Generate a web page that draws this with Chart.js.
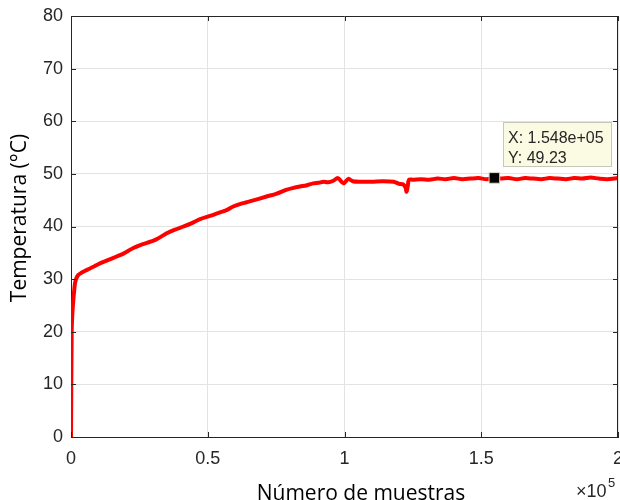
<!DOCTYPE html>
<html>
<head>
<meta charset="utf-8">
<script src="https://cdn.jsdelivr.net/npm/chart.js@4.4.1/dist/chart.umd.min.js"></script>
<style>
  html, body { margin: 0; padding: 0; background: #ffffff; }
  #wrap { width: 620px; height: 500px; position: relative; }
</style>
</head>
<body>
<div id="wrap"><canvas id="chart"></canvas></div>
<script>
//Samples (x) and measured temperature (y)
const muestras = [
  0, 240, 500, 850, 1200, 1460, 2000, 2680, 3500, 4500, 6000, 8000, 10600, 13000,
  16700, 19000, 22800, 26000, 28900, 31000, 35000, 38000, 41100, 44000, 47200,
  50800, 54000, 56900, 59300, 62000, 64200, 67000, 71500, 75000, 78900, 81000,
  83700, 86000, 88600, 90500, 92300, 94000, 95900, 97600, 99600, 101400, 103000,
  106000, 110000, 114000, 118000, 120000, 121500, 122300, 122700, 123100, 123600,
  125000, 128000, 131000, 134000, 137000, 140000, 143000, 146000, 149000, 152000,
  154800, 157000, 160000, 163000, 166000, 169000, 172000, 175000, 178000, 181000,
  184000, 187000, 190000, 193000, 196000, 200000
];
const temperatura = [
  0, 19.8, 23.5, 26.0, 28.0, 29.2, 30.2, 30.8, 31.1, 31.4, 31.8, 32.3, 33.0, 33.5,
  34.3, 34.8, 35.9, 36.6, 37.1, 37.5, 38.7, 39.4, 40.0, 40.6, 41.4,
  42.0, 42.6, 43.1, 43.8, 44.3, 44.6, 45.0, 45.7, 46.2, 47.0, 47.3,
  47.6, 47.8, 48.2, 48.3, 48.5, 48.4, 48.7, 49.2, 48.2, 49.05, 48.6,
  48.5, 48.5, 48.6, 48.5, 48.1, 48.0, 47.4, 46.6, 47.6, 48.9,
  48.9, 49.0, 48.9, 49.1, 49.0, 49.2, 49.0, 49.1, 49.2, 49.0,
  49.23, 49.1, 49.2, 49.0, 49.2, 49.1, 49.0, 49.2, 49.1, 49.0,
  49.2, 49.1, 49.3, 49.1, 49.0, 49.2
];
//Data tip
const tipX = [154800];
const tipY = [49.23];
const tipLines = ["X: 1.548e+05", "Y: 49.23"];
//Axis ticks and labels
const xTicks = [0, 50000, 100000, 150000, 200000];
const xTickLabels = ["0", "0.5", "1", "1.5", "2"];
const yTicks = [0, 10, 20, 30, 40, 50, 60, 70, 80];

const axisColor = "#262626";
const tickFont = { family: "'Liberation Sans', Arial, sans-serif", size: 18 };

//Plugin: box, inward ticks, axis titles, exponent and data tip
const extras = {
  id: "extras",
  afterDraw(chart) {
    const ctx = chart.ctx;
    const a = chart.chartArea;
    const xs = chart.scales.x;
    const ys = chart.scales.y;
    ctx.save();
    //top and right box lines
    ctx.strokeStyle = axisColor;
    ctx.lineWidth = 1;
    ctx.beginPath();
    ctx.moveTo(a.left, a.top + 0.5);
    ctx.lineTo(a.right, a.top + 0.5);
    ctx.moveTo(a.right - 0.5, a.top);
    ctx.lineTo(a.right - 0.5, a.bottom);
    ctx.stroke();
    //inward ticks on all four sides
    ctx.beginPath();
    const tl = 5;
    xTicks.forEach(v => {
      const px = Math.round(xs.getPixelForValue(v)) + 0.5;
      ctx.moveTo(px, a.bottom); ctx.lineTo(px, a.bottom - tl);
      ctx.moveTo(px, a.top); ctx.lineTo(px, a.top + tl);
    });
    yTicks.forEach(v => {
      const py = Math.round(ys.getPixelForValue(v)) + 0.5;
      ctx.moveTo(a.left, py); ctx.lineTo(a.left + tl, py);
      ctx.moveTo(a.right, py); ctx.lineTo(a.right - tl, py);
    });
    ctx.stroke();

    //axis titles
    ctx.fillStyle = "#000000";
    ctx.font = "21px 'Open Sans', sans-serif";
    ctx.textAlign = "center";
    ctx.textBaseline = "alphabetic";
    ctx.fillText("Número de muestras", 361, 500);
    ctx.save();
    ctx.translate(26, 218);
    ctx.rotate(-Math.PI / 2);
    ctx.fillText("Temperatura (°C)", 0, 0);
    ctx.restore();

    //x10^5 exponent
    ctx.fillStyle = axisColor;
    ctx.textAlign = "left";
    ctx.font = "18px 'Liberation Sans', Arial, sans-serif";
    ctx.fillText("\u00d710", 576, 497);
    ctx.font = "13px 'Liberation Sans', Arial, sans-serif";
    ctx.fillText("5", 608, 487);

    //data tip box
    const bx = 503, by = 122, bw = 109, bh = 45;
    ctx.fillStyle = "#fbfbe3";
    ctx.fillRect(bx, by, bw, bh);
    ctx.strokeStyle = "#c8c8b8";
    ctx.strokeRect(bx + 0.5, by + 0.5, bw - 1, bh - 1);
    ctx.fillStyle = "#262626";
    ctx.font = "16px 'Liberation Sans', Arial, sans-serif";
    ctx.fillText(tipLines[0], 508, 143);
    ctx.fillText(tipLines[1], 508, 163);
    ctx.restore();
  }
};

new Chart(document.getElementById("chart"), {
  type: "line",
  plugins: [extras],
  data: {
    datasets: [
      {
        //data tip marker
        data: tipX.map((x, i) => ({ x: x, y: tipY[i] })),
        pointStyle: "rect",
        pointRadius: 7.5,
        pointBackgroundColor: "#000000",
        pointBorderColor: "#d8d8c0",
        pointBorderWidth: 1,
        showLine: false,
      },
      {
        data: muestras.map((x, i) => ({ x: x, y: temperatura[i] })),
        borderColor: "#ff0000",
        borderWidth: 4,
        pointRadius: 0,
        tension: 0.3,
        fill: false,
      },
    ],
  },
  options: {
    responsive: true,
    maintainAspectRatio: false,
    animation: false,
    layout: { autoPadding: false, padding: { top: 16, right: 2, left: 0, bottom: 0 } },
    plugins: {
      legend: { display: false },
      tooltip: { enabled: false },
    },
    scales: {
      x: {
        type: "linear",
        min: 0,
        max: 200000,
        afterBuildTicks: (s) => { s.ticks = xTicks.map(v => ({ value: v })); },
        afterFit: (s) => { s.height = 63; s.paddingLeft = 0; s.paddingRight = 0; },
        grid: { color: "#e3e3e3", drawTicks: false },
        border: { color: axisColor, width: 1 },
        ticks: {
          color: axisColor,
          font: tickFont,
          padding: 11,
          maxRotation: 0,
          autoSkip: false,
          callback: (v) => xTickLabels[xTicks.indexOf(v)],
        },
      },
      y: {
        min: 0,
        max: 80,
        afterBuildTicks: (s) => { s.ticks = yTicks.map(v => ({ value: v })); },
        afterFit: (s) => { s.width = 71; s.paddingTop = 0; s.paddingBottom = 0; },
        grid: { color: "#e3e3e3", drawTicks: false },
        border: { color: axisColor, width: 1 },
        ticks: { color: axisColor, font: tickFont, padding: 8 },
      },
    },
  },
});
</script>
</body>
</html>
